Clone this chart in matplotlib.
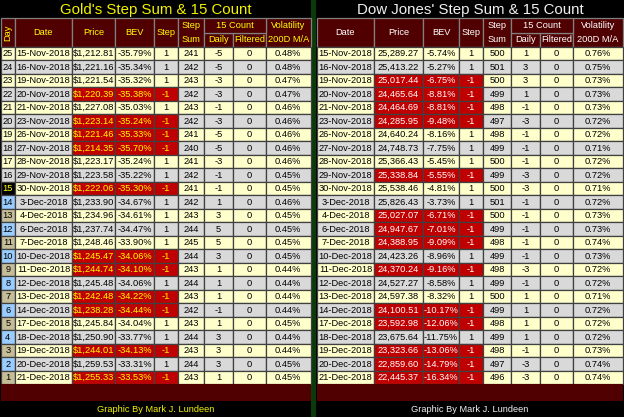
import matplotlib
matplotlib.use('Agg')
import matplotlib.pyplot as plt
from matplotlib.patches import Rectangle
from matplotlib import font_manager as fm

# ---------------- data ----------------
days = list(range(25, 0, -1))
dates = ["15-Nov-2018", "16-Nov-2018", "19-Nov-2018", "20-Nov-2018", "21-Nov-2018",
         "23-Nov-2018", "26-Nov-2018", "27-Nov-2018", "28-Nov-2018", "29-Nov-2018",
         "30-Nov-2018", "3-Dec-2018", "4-Dec-2018", "6-Dec-2018", "7-Dec-2018",
         "10-Dec-2018", "11-Dec-2018", "12-Dec-2018", "13-Dec-2018", "14-Dec-2018",
         "17-Dec-2018", "18-Dec-2018", "19-Dec-2018", "20-Dec-2018", "21-Dec-2018"]

gold_price = [1212.81, 1221.16, 1221.54, 1220.39, 1227.08, 1223.14, 1221.46, 1214.35,
              1223.17, 1223.58, 1222.06, 1233.90, 1234.96, 1237.74, 1248.46, 1245.47,
              1244.74, 1245.48, 1242.48, 1238.28, 1245.84, 1250.90, 1244.01, 1259.53, 1255.33]
gold_bev = [-35.79, -35.34, -35.32, -35.38, -35.03, -35.24, -35.33, -35.70, -35.24, -35.22,
            -35.30, -34.67, -34.61, -34.47, -33.90, -34.06, -34.10, -34.06, -34.22, -34.44,
            -34.04, -33.77, -34.13, -33.31, -33.53]
gold_step = [1, 1, 1, -1, 1, -1, -1, -1, 1, 1, -1, 1, 1, 1, 1, -1, -1, 1, -1, -1, 1, 1, -1, 1, -1]
gold_stepsum = [241, 242, 243, 242, 243, 242, 241, 240, 241, 242, 241, 242, 243, 244, 245,
                244, 243, 244, 243, 242, 243, 244, 243, 244, 243]
gold_daily = [-5, -5, -3, -3, -1, -3, -5, -5, -3, -1, -1, 1, 3, 5, 5, 3, 1, 1, 1, -1, 1, 3, 3, 3, 1]
gold_filtered = [0] * 25
gold_vol = [0.48, 0.48, 0.47, 0.47, 0.46, 0.46, 0.46, 0.46, 0.46, 0.45, 0.45, 0.46, 0.45,
            0.45, 0.45, 0.45, 0.44, 0.44, 0.44, 0.44, 0.45, 0.44, 0.44, 0.45, 0.45]

dow_price = [25289.27, 25413.22, 25017.44, 24465.64, 24464.69, 24285.95, 24640.24, 24748.73,
             25366.43, 25338.84, 25538.46, 25826.43, 25027.07, 24947.67, 24388.95, 24423.26,
             24370.24, 24527.27, 24597.38, 24100.51, 23592.98, 23675.64, 23323.66, 22859.60,
             22445.37]
dow_bev = [-5.74, -5.27, -6.75, -8.81, -8.81, -9.48, -8.16, -7.75, -5.45, -5.55, -4.81, -3.73,
           -6.71, -7.01, -9.09, -8.96, -9.16, -8.58, -8.32, -10.17, -12.06, -11.75, -13.06,
           -14.79, -16.34]
dow_step = [1, 1, -1, -1, -1, -1, 1, 1, 1, -1, 1, 1, -1, -1, -1, 1, -1, 1, 1, -1, -1, 1, -1, -1, -1]
dow_stepsum = [500, 501, 500, 499, 498, 497, 498, 499, 500, 499, 500, 501, 500, 499, 498,
               499, 498, 499, 500, 499, 498, 499, 498, 497, 496]
dow_daily = [1, 3, 3, 1, -1, -3, -1, -1, -1, -3, -3, -1, -1, -1, -1, -1, -3, -1, 1, 1, 1, 1, -1, -3, -3]
dow_filtered = [0] * 25
dow_vol = [0.76, 0.75, 0.73, 0.73, 0.73, 0.72, 0.72, 0.71, 0.72, 0.72, 0.71, 0.72, 0.73,
           0.73, 0.74, 0.73, 0.72, 0.72, 0.71, 0.72, 0.72, 0.72, 0.73, 0.74, 0.74]

gold_title = "Gold's Step Sum & 15 Count"
dow_title = "Dow Jones' Step Sum & 15 Count"
footer = "Graphic By Mark J. Lundeen"

# ---------------- style ----------------
names = {f.name for f in fm.fontManager.ttflist}
if 'Liberation Sans Narrow' in names:
    FONT, SC = 'Liberation Sans Narrow', 1.0
else:
    FONT, SC = 'Liberation Sans', 0.86

MAROON = '#500000'
YEL_ROW = '#FFFFCC'
GRAY_ROW = '#D9D9D9'
RED = '#C00000'
BLUE = '#99CCFF'
TAN = '#C4BD97'
GREEN = '#0B3A0B'
HLINE = '#808080'
DLINE = '#404040'

W, H = 624, 417
fig = plt.figure(figsize=(W / 100, H / 100), dpi=100)
fig.patch.set_facecolor('black')
ax = fig.add_axes([0, 0, 1, 1])
ax.set_xlim(0, W)
ax.set_ylim(H, 0)
ax.axis('off')
ax.set_facecolor('black')

HDR_TOP, HDR_MID, DATA_TOP, ROW_H = 18.3, 32.5, 46.7, 13.5
N = len(days)
DATA_BOT = DATA_TOP + N * ROW_H
BAND_BOT = 401.0

FS = 7.8 * SC
TFS = 12.6 * SC


def cell(x0, x1, y0, y1, fc, ec, lw=0.9):
    ax.add_patch(Rectangle((x0, y0), x1 - x0, y1 - y0, facecolor=fc, edgecolor=ec, linewidth=lw))


def txt(x, y, s, color, size=FS, rot=0):
    ax.text(x, y, s, color=color, fontsize=size, family=FONT, ha='center', va='center',
            rotation=rot)


def draw_table(edges, with_day, title, tcolor, hcolor, red_tcolor, price, bev, step,
               stepsum, daily, filt, vol, price_fmt):
    x_left, x_right = edges[0], edges[-1]
    xc = (x_left + x_right) / 2
    txt(xc, 9.5, title, tcolor, size=TFS)
    # header
    cols = ["Day"] if with_day else []
    cols += ["Date", "Price", "BEV", "Step", "StepSum", "Daily", "Filtered", "Vol"]
    for i, c in enumerate(cols):
        a, b = edges[i], edges[i + 1]
        m = (a + b) / 2
        if c in ("Daily", "Filtered"):
            cell(a, b, HDR_MID, DATA_TOP, MAROON, HLINE)
            txt(m, (HDR_MID + DATA_TOP) / 2, c, hcolor)
        else:
            cell(a, b, HDR_TOP, DATA_TOP, MAROON, HLINE)
            if c == "Day":
                txt(m, (HDR_TOP + DATA_TOP) / 2, "Day", hcolor, rot=90)
            elif c == "StepSum":
                txt(m, 25.5, "Step", hcolor)
                txt(m, 39.5, "Sum", hcolor)
            elif c == "Vol":
                txt(m, 25.5, "Volatility", hcolor)
                txt(m, 39.5, "200D M/A", hcolor)
            else:
                txt(m, (HDR_TOP + DATA_TOP) / 2, c, hcolor)
    k = cols.index("Daily")
    cell(edges[k], edges[k + 2], HDR_TOP, HDR_MID, MAROON, HLINE)
    txt((edges[k] + edges[k + 2]) / 2, 25.5, "15 Count", hcolor)

    # rows
    for r in range(N):
        y0 = DATA_TOP + r * ROW_H
        y1 = y0 + ROW_H
        ym = (y0 + y1) / 2 + 0.3
        bg = YEL_ROW if days[r] % 2 == 1 else GRAY_ROW
        vals = []
        if with_day:
            d = days[r]
            if d > 15:
                vals.append((str(d), bg, 'black'))
            elif d == 15:
                vals.append((str(d), 'black', '#FFFF00'))
            else:
                vals.append((str(d), BLUE if d % 2 == 0 else TAN, 'black'))
        neg = step[r] < 0
        rc = RED if neg else bg
        rt = red_tcolor if neg else 'black'
        vals += [(dates[r], bg, 'black'),
                 (price_fmt(price[r]), rc, rt),
                 (f"{bev[r]:.2f}%", rc, rt),
                 (str(step[r]), rc, rt),
                 (str(stepsum[r]), bg, 'black'),
                 (str(daily[r]), bg, 'black'),
                 (str(filt[r]), bg, 'black'),
                 (f"{vol[r]:.2f}%", bg, 'black')]
        for i, (s, fc, tc) in enumerate(vals):
            cell(edges[i], edges[i + 1], y0, y1, fc, DLINE)
            txt((edges[i] + edges[i + 1]) / 2, ym, s, tc)
    # bottom band
    ax.add_patch(Rectangle((x_left, DATA_BOT), x_right - x_left, BAND_BOT - DATA_BOT,
                           facecolor=MAROON, edgecolor='none'))
    txt(xc, 409, footer, tcolor, size=FS)


# green separator
ax.add_patch(Rectangle((311, 0), 5, H, facecolor=GREEN, edgecolor='none'))

left_edges = [0.5, 15, 72, 115, 154, 178, 204, 233, 266, 310.5]
right_edges = [317, 374, 423, 459, 483, 511, 540, 573, 623]

draw_table(left_edges, True, gold_title, '#F2F200', '#FFFF00', '#FFFF00',
           gold_price, gold_bev, gold_step, gold_stepsum, gold_daily, gold_filtered,
           gold_vol, lambda p: f"${p:,.2f}")
draw_table(right_edges, False, dow_title, '#F0F0F0', '#FFFFFF', '#FFFFFF',
           dow_price, dow_bev, dow_step, dow_stepsum, dow_daily, dow_filtered,
           dow_vol, lambda p: f"{p:,.2f}")

fig.savefig('out.png', dpi=100, facecolor='black')
